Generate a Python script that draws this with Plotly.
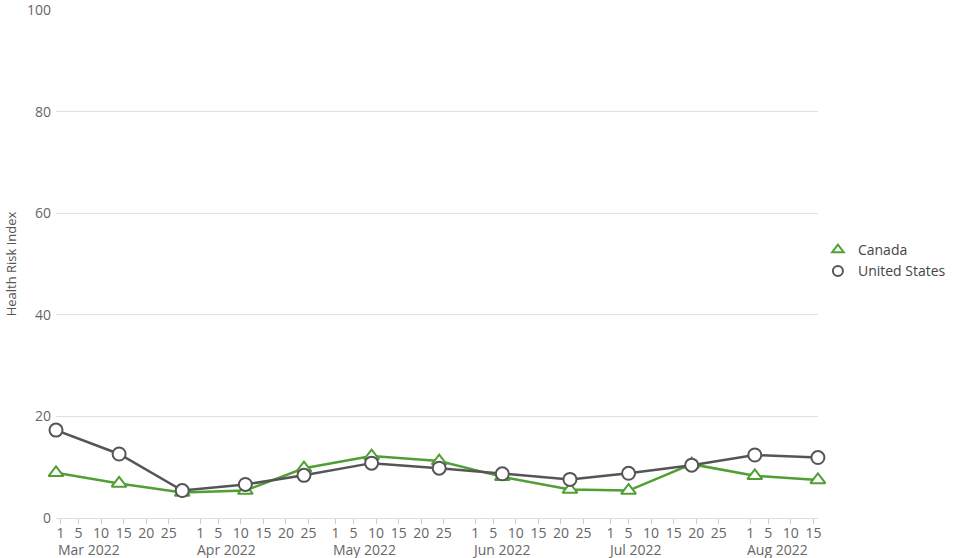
import plotly.graph_objects as go
from datetime import date

dates = ["2022-02-28", "2022-03-14", "2022-03-28", "2022-04-11", "2022-04-24",
         "2022-05-09", "2022-05-24", "2022-06-07", "2022-06-22", "2022-07-05",
         "2022-07-19", "2022-08-02", "2022-08-16"]
canada = [8.9, 6.8, 5.0, 5.4, 9.8, 12.2, 11.2, 8.1, 5.6, 5.4, 10.6, 8.3, 7.5]
united_states = [17.3, 12.6, 5.4, 6.6, 8.4, 10.8, 9.8, 8.7, 7.6, 8.8, 10.4, 12.4, 11.9]

tick_months = [(2022, 3), (2022, 4), (2022, 5), (2022, 6), (2022, 7), (2022, 8)]
tick_days = [1, 5, 10, 15, 20, 25]
month_names = ["Jan", "Feb", "Mar", "Apr", "May", "Jun", "Jul", "Aug", "Sep", "Oct", "Nov", "Dec"]
y_ticks = [0, 20, 40, 60, 80, 100]

x_end = dates[-1]
tickvals, ticktext = [], []
for (yr, mo) in tick_months:
    for d in tick_days:
        ds = date(yr, mo, d).isoformat()
        if ds <= x_end:
            tickvals.append(ds)
            ticktext.append(str(d))

GREEN = "#4f9f33"
GREY = "#555555"
FONT = "Open Sans, Noto Sans, sans-serif"

series = [("Canada", canada, GREEN, "triangle-up"),
          ("United States", united_states, GREY, "circle")]

fig = go.Figure()
for name, vals, col, sym in series:
    fig.add_trace(go.Scatter(
        x=dates, y=vals, name=name, mode="lines+markers", showlegend=False,
        line=dict(color=col, width=2.5),
        marker=dict(symbol=sym, size=13, color="white", line=dict(color=col, width=2)),
        cliponaxis=False,
    ))
for name, vals, col, sym in series:
    fig.add_trace(go.Scatter(
        x=[None], y=[None], name=name, mode="markers", showlegend=True,
        marker=dict(symbol=sym, size=10, color="white", line=dict(color=col, width=2)),
    ))

annotations = []
for (yr, mo) in tick_months:
    annotations.append(dict(
        x=date(yr, mo, 1).isoformat(), xref="x", y=0, yref="paper",
        text=f"{month_names[mo-1]} {yr}", showarrow=False,
        xanchor="left", yanchor="top", xshift=-5, yshift=-20,
        font=dict(family=FONT, size=14, color="#666666"),
    ))

fig.update_layout(
    width=960, height=558,
    margin=dict(l=56, r=142, t=10, b=40),
    paper_bgcolor="white", plot_bgcolor="white",
    font=dict(family=FONT, size=14, color="#666666"),
    showlegend=True,
    legend=dict(xref="container", x=0.852, xanchor="left",
                yref="container", y=0.533, yanchor="middle",
                font=dict(family=FONT, size=14, color="#444444"),
                itemwidth=30),
    annotations=annotations,
    xaxis=dict(
        type="date", range=[dates[0], x_end], automargin=False,
        tickmode="array", tickvals=tickvals, ticktext=ticktext,
        ticks="outside", ticklen=5, tickcolor="#cccccc", tickwidth=1,
        showline=True, linecolor="#dddddd", linewidth=1,
        showgrid=False, zeroline=False,
        tickfont=dict(family=FONT, size=14, color="#666666"),
        ticklabeloverflow="allow", ticklabelstandoff=-3,
    ),
    yaxis=dict(
        range=[0, 100], tickvals=y_ticks, automargin=False,
        showgrid=True, gridcolor="#e0e0e0", gridwidth=1,
        zeroline=False, showline=False,
        title=dict(text="Health Risk Index", font=dict(family=FONT, size=13, color="#555555"), standoff=7),
        tickfont=dict(family=FONT, size=14, color="#666666"),
        ticklabelstandoff=4, ticklabeloverflow="allow",
    ),
)

fig.write_html("out.html", config={"displayModeBar": False},
               post_script="document.body.style.margin='0';document.body.style.overflow='hidden';")
